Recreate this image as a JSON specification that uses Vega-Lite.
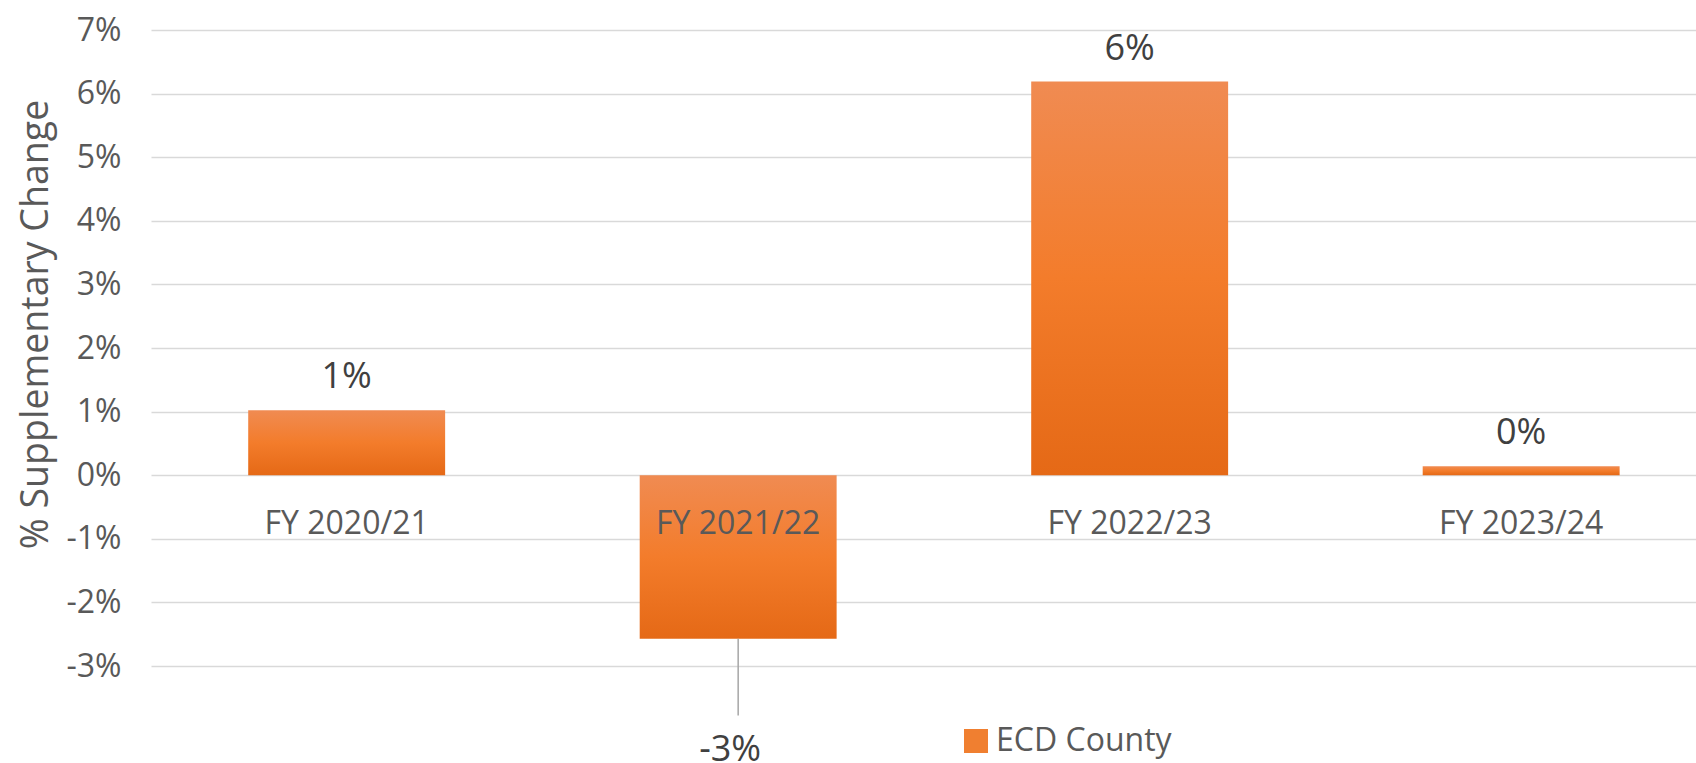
{
  "$schema": "https://vega.github.io/schema/vega-lite/v6.json",
  "width": 1545,
  "height": 636,
  "autosize": "none",
  "padding": {"left": 151, "top": 30, "right": 0, "bottom": 97},
  "background": "white",
  "config": {
    "view": {"stroke": null},
    "font": "Open Sans",
    "locale": {"number": {"decimal": ".", "thousands": ",", "grouping": [3], "currency": ["$", ""], "minus": "-"}}
  },
  "data": {
    "values": [
      {"year": "FY 2020/21", "change": 0.0102, "series": "ECD County"},
      {"year": "FY 2021/22", "change": -0.0257, "series": "ECD County"},
      {"year": "FY 2022/23", "change": 0.0619, "series": "ECD County"},
      {"year": "FY 2023/24", "change": 0.0014, "series": "ECD County"}
    ]
  },
  "encoding": {
    "x": {
      "field": "year",
      "type": "nominal",
      "sort": null,
      "scale": {"paddingInner": 0.497, "paddingOuter": 0.2217, "align": 0.56},
      "axis": {
        "title": null,
        "orient": "bottom",
        "offset": -192.6,
        "domain": false,
        "ticks": false,
        "labelAngle": 0,
        "labelFontSize": 32,
        "labelColor": "#595959",
        "labelBaseline": "middle",
        "labelPadding": 50,
        "zindex": 1
      }
    }
  },
  "layer": [
    {
      "mark": {
        "type": "bar",
        "color": {
          "gradient": "linear",
          "x1": 0, "y1": 0, "x2": 0, "y2": 1,
          "stops": [
            {"offset": 0, "color": "#F08B52"},
            {"offset": 0.5, "color": "#F37C2B"},
            {"offset": 1, "color": "#E56916"}
          ]
        }
      },
      "encoding": {
        "y": {
          "field": "change",
          "type": "quantitative",
          "scale": {"domain": [-0.03, 0.07], "nice": false},
          "axis": {
            "title": "% Supplementary Change",
            "format": ".0%",
            "values": [-0.03, -0.02, -0.01, 0, 0.01, 0.02, 0.03, 0.04, 0.05, 0.06, 0.07],
            "grid": true,
            "gridColor": "#D9D9D9",
            "gridWidth": 1.5,
            "domain": false,
            "ticks": false,
            "labelFontSize": 32,
            "labelColor": "#595959",
            "labelPadding": 30,
            "titleFontSize": 37.5,
            "titleColor": "#595959",
            "titleFontWeight": "normal",
            "titlePadding": 10,
            "titleY": 294
          }
        }
      }
    },
    {
      "mark": {"type": "square", "opacity": 0},
      "encoding": {
        "y": {"field": "change", "type": "quantitative"},
        "color": {
          "field": "series",
          "type": "nominal",
          "scale": {"range": ["#F07F30"]},
          "legend": {
            "title": null,
            "orient": "none",
            "legendX": 809,
            "legendY": 695,
            "symbolType": "square",
            "symbolSize": 576,
            "symbolOpacity": 1,
            "symbolStrokeWidth": 0,
            "labelFontSize": 32,
            "labelColor": "#595959",
            "labelLimit": 0
          }
        }
      }
    },
    {
      "transform": [{"filter": "datum.change < 0"}],
      "mark": {"type": "rule", "color": "#A6A6A6", "strokeWidth": 1.5},
      "encoding": {
        "y": {"field": "change", "type": "quantitative"},
        "y2": {"datum": -0.0378}
      }
    },
    {
      "transform": [{"filter": "datum.change >= 0"}],
      "mark": {"type": "text", "dy": -33, "baseline": "middle", "fontSize": 36, "color": "#404040"},
      "encoding": {
        "y": {"field": "change", "type": "quantitative"},
        "text": {"field": "change", "type": "quantitative", "format": ".0%"}
      }
    },
    {
      "transform": [{"filter": "datum.change < 0"}],
      "mark": {"type": "text", "dy": 111, "dx": -8, "baseline": "middle", "fontSize": 36, "color": "#404040"},
      "encoding": {
        "y": {"field": "change", "type": "quantitative"},
        "text": {"field": "change", "type": "quantitative", "format": ".0%"}
      }
    }
  ]
}
